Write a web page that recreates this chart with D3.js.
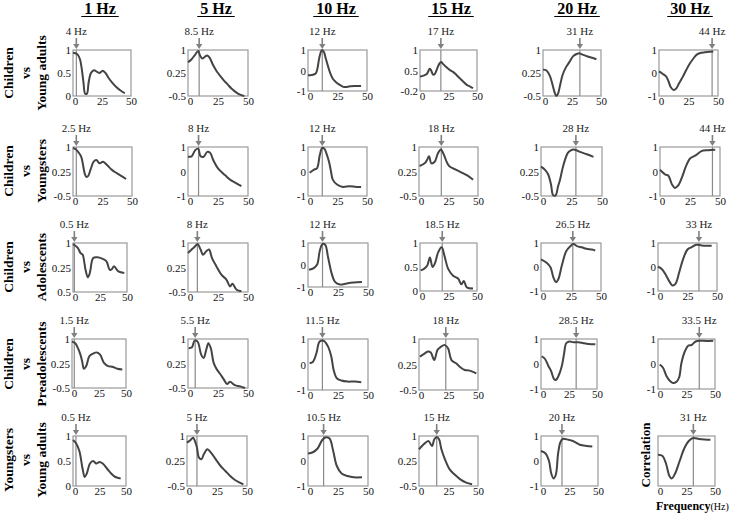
<!DOCTYPE html>
<html>
<head>
<meta charset="utf-8">
<script src="https://cdn.jsdelivr.net/npm/d3@7"></script>
<style>
  body { margin: 0; background: #fff; }
  text { font-family: "Liberation Serif", "Times New Roman", serif; }
</style>
</head>
<body>
<svg id="chart" width="738" height="517"></svg>
<script>
// column headers and row groups
var bandTitles = ["1 Hz", "5 Hz", "10 Hz", "15 Hz", "20 Hz", "30 Hz"];
var groupLabels = [
  ["Children", "vs", "Young  adults"],
  ["Children", "vs", "Youngsters"],
  ["Children", "vs", "Adolescents"],
  ["Children", "vs", "Preadolescents"],
  ["Youngsters", "vs", "Young adults"]
];

// peak labels and where the peak marker sits (Hz)
var peakLabels = [
  ["4 Hz", "8.5 Hz", "12 Hz", "17 Hz", "31 Hz", "44 Hz"],
  ["2.5 Hz", "8 Hz", "12  Hz", "18 Hz", "28 Hz", "44 Hz"],
  ["0.5 Hz", "8 Hz", "12 Hz", "18.5 Hz", "26.5 Hz", "33 Hz"],
  ["1.5 Hz", "5.5 Hz", "11.5 Hz", "18 Hz", "28.5 Hz", "33.5 Hz"],
  ["0.5 Hz", "5 Hz", "10.5 Hz", "15 Hz", "20 Hz", "31 Hz"]
];
var peakAt = [
  [2.9, 9.3, 12.1, 18.3, 31.8, 45],
  [2.8, 8.8, 12.1, 18.9, 28.6, 43.7],
  [1.25, 7.8, 12.1, 19.5, 26.5, 34.7],
  [2.1, 6, 12, 22.7, 31.4, 36.2],
  [2.8, 8.3, 13, 15, 18.4, 31]
];

// y tick labels (bottom, middle, top) and the lower end of each y range
var yTickLabels = [
  [["0", "0.5", "1"], ["-0.5", "0.25", "1"], ["-1", "0", "1"], ["-0.2", "0.5", "1"], ["-0.5", "0.25", "1"], ["-1", "0", "1"]],
  [["-0.5", "0.25", "1"], ["-1", "0", "1"], ["-1", "0", "1"], ["-0.5", "0.25", "1"], ["-0.5", "0.25", "1"], ["-1", "0", "1"]],
  [["0.5", "0.25", "1"], ["-0.5", "0.25", "1"], ["-1", "0", "1"], ["0", "0.5", "1"], ["-1", "0", "1"], ["-1", "0", "1"]],
  [["-0.5", "0.25", "1"], ["-0.5", "0.25", "1"], ["-1", "0", "1"], ["-0.5", "0.25", "1"], ["-1", "0", "1"], ["-1", "0", "1"]],
  [["0", "0.5", "1"], ["-0.5", "0.25", "1"], ["-1", "0", "1"], ["-0.5", "0.25", "1"], ["-1", "0", "1"], []]
];
var yLow = [
  [0, -0.5, -1, -0.2, -0.5, -1],
  [-0.5, -1, -1, -0.5, -0.5, -1],
  [-0.5, -0.5, -1, 0, -1, -1],
  [-0.5, -0.5, -1, -0.5, -1, -1],
  [0, -0.5, -1, -0.5, -1, -1]
];
var xTicks = [0, 25, 50];

// correlation curves, [frequency, correlation]
var curvesChildrenYoungAdults = [
  [[0,0.94],[2,0.93],[4,0.9],[6,0.8],[7.5,0.6],[9,0.3],[10.5,0.05],[12,0.05],[13.5,0.3],[15.5,0.5],[18,0.56],[21,0.52],[23,0.5],[25.5,0.55],[28,0.5],[31,0.38],[34.5,0.27],[38,0.18],[41,0.12],[44.7,0.06]],
  [[0,0.6],[3,0.7],[6,0.85],[8.5,0.97],[10,0.82],[12,0.72],[14,0.78],[16,0.82],[18,0.75],[21,0.5],[24,0.3],[27,0.15],[30,0.0],[33,-0.12],[36,-0.25],[39,-0.35],[42,-0.43],[45,-0.48],[47,-0.5]],
  [[0,-0.23],[3,-0.22],[6.5,-0.15],[8,0.1],[9.5,0.6],[11,0.92],[12,1],[13.5,0.9],[15,0.6],[17,0.2],[19,-0.15],[21,-0.4],[24,-0.58],[27,-0.7],[30,-0.8],[33,-0.8],[36,-0.77],[40,-0.76],[45,-0.76]],
  [[0,0.22],[3,0.25],[6,0.3],[8.5,0.45],[9.5,0.42],[11.5,0.28],[13,0.3],[15,0.45],[17,0.6],[18.5,0.65],[20,0.6],[23,0.5],[26,0.42],[29,0.36],[32,0.27],[35,0.17],[38,0.07],[41,-0.02],[44,-0.07],[46.5,-0.12]],
  [[0,0.36],[3,0.33],[6,0.15],[8,-0.1],[10,-0.38],[11.5,-0.5],[13,-0.42],[15,-0.1],[17,0.2],[20,0.45],[23,0.62],[26,0.8],[29,0.87],[31.5,0.89],[34,0.85],[37,0.81],[40,0.77],[43,0.74],[46,0.7]],
  [[0,0.07],[3,-0.03],[6,-0.15],[8,-0.35],[10,-0.62],[12.5,-0.74],[14.5,-0.68],[17,-0.45],[20,-0.18],[23,0.12],[26,0.4],[29,0.62],[32,0.8],[35,0.87],[39,0.9],[43,0.92],[46,0.93]]
];
var curvesChildrenYoungsters = [
  [[0,0.97],[2.3,0.93],[5,0.82],[7,0.7],[8.5,0.45],[10,0.18],[11.5,0.08],[13,0.12],[15,0.32],[17.5,0.55],[19.8,0.6],[22.5,0.5],[25.5,0.55],[28.8,0.45],[33,0.3],[37,0.2],[41.5,0.1],[45,0.02]],
  [[0,0.6],[3,0.62],[6,0.87],[8.5,0.93],[10.5,0.62],[13,0.6],[16,0.8],[18.5,0.76],[21,0.47],[25,0.13],[29,-0.07],[32,-0.2],[35,-0.33],[40,-0.47],[44.5,-0.6]],
  [[1.4,-0.05],[4.8,0.07],[7.6,0.13],[10,0.67],[12,0.96],[14,0.92],[15.5,0.75],[17.8,0.4],[19.5,0.0],[21,-0.33],[24.6,-0.53],[29.7,-0.63],[35,-0.6],[41,-0.63],[45,-0.63]],
  [[0.5,0.42],[4.8,0.5],[7,0.62],[8.5,0.72],[10.5,0.5],[13.3,0.55],[16,0.8],[18.5,0.92],[20,0.85],[21.8,0.7],[24,0.5],[26,0.4],[31.6,0.3],[37,0.2],[43,0.08],[45.8,0.0]],
  [[0,0.4],[3.3,0.3],[6,0.15],[8.2,-0.15],[10,-0.48],[12,-0.48],[14,-0.2],[15.6,0.0],[18.4,0.45],[22,0.82],[24.5,0.9],[26.6,0.92],[29,0.9],[32,0.85],[37.6,0.78],[43,0.7]],
  [[0,0.07],[4.5,-0.13],[7,-0.17],[10,-0.53],[12.4,-0.67],[15.2,-0.57],[18.6,-0.2],[21.5,0.2],[25,0.53],[30,0.67],[34.5,0.83],[40,0.87],[46,0.89]]
];
var curvesChildrenAdolescents = [
  [[0,0.97],[4.4,0.85],[7,0.69],[9,0.64],[10.5,0.4],[11.6,0.18],[13.7,-0.05],[15,0.02],[16,0.15],[18.7,0.54],[22.5,0.56],[27,0.52],[31,0.44],[34,0.18],[36,0.2],[38,0.29],[42,0.13],[47.5,0.08]],
  [[0,0.69],[3,0.8],[6,0.9],[8,0.97],[10.5,0.8],[12.5,0.64],[15,0.74],[17.5,0.8],[20,0.54],[23.6,0.29],[27.8,0.03],[32,-0.12],[35,-0.33],[37,-0.25],[40.5,-0.43],[44.5,-0.48]],
  [[0.8,-0.22],[4.8,-0.14],[7.6,0.02],[9.8,0.64],[12,0.95],[14.3,0.92],[16.8,0.33],[19.7,-0.38],[22.5,-0.77],[26.7,-0.89],[32.3,-0.84],[38,-0.8],[45,-0.77]],
  [[0.6,0.43],[3.5,0.46],[6.4,0.53],[8.7,0.7],[11,0.5],[13,0.57],[16,0.81],[19,0.91],[21.8,0.7],[24.7,0.46],[29,0.32],[33.4,0.26],[36.3,0.14],[38.4,0.21],[41,0.08],[46.5,0.05]],
  [[0,0.32],[4.7,0.18],[8,-0.02],[10.3,-0.43],[12.6,-0.63],[14.5,-0.5],[17.3,0.05],[21,0.66],[24.3,0.86],[27,0.96],[30.4,0.86],[34,0.82],[37.7,0.76],[42.5,0.73],[45.2,0.69]],
  [[0,0.01],[3.4,-0.09],[7,-0.36],[10,-0.63],[12.3,-0.77],[14.8,-0.7],[18,-0.22],[21.2,0.32],[25,0.73],[28.3,0.82],[32.5,0.93],[37,0.9],[42.6,0.89],[45.5,0.89]]
];
var curvesChildrenPreadolescents = [
  [[0,0.92],[3,0.87],[5.5,0.72],[7.8,0.52],[9.4,0.32],[11,0.09],[13.4,0.19],[16,0.47],[19.5,0.55],[23,0.59],[26,0.52],[29.6,0.27],[33.5,0.17],[37.2,0.15],[42,0.09],[46.6,0.07]],
  [[0.5,0.72],[3.3,0.75],[5.5,0.95],[8,0.92],[11,0.52],[13,0.42],[15.2,0.67],[17,0.87],[19,0.72],[21.4,0.27],[24,0.07],[27,-0.08],[29.7,-0.23],[32.5,-0.38],[35,-0.31],[39,-0.41],[43.5,-0.45],[47.5,-0.5]],
  [[1.4,0.05],[4.2,0.11],[7,0.44],[9.7,0.9],[13,0.93],[16.7,0.7],[19.4,0.31],[21.4,-0.22],[24,-0.54],[27.8,-0.63],[33,-0.67],[39,-0.67],[44.4,-0.7]],
  [[0.8,0.48],[5,0.58],[7.8,0.63],[10,0.6],[12.9,0.38],[15.7,0.68],[18.5,0.77],[22,0.82],[24.7,0.72],[27.5,0.38],[31.7,0.28],[35,0.17],[38.7,0.09],[43,0.07],[48.6,-0.01]],
  [[0.6,0.31],[3.6,0.2],[6.6,-0.08],[9,-0.28],[11.7,-0.61],[13.5,-0.63],[15.6,-0.48],[18.6,-0.08],[20.7,0.44],[22.5,0.83],[25.4,0.9],[29,0.87],[33.5,0.87],[38,0.83],[42.5,0.8],[48.5,0.79]],
  [[1.5,-0.02],[4.4,-0.15],[7.4,-0.48],[10.3,-0.67],[13.2,-0.76],[16.2,-0.71],[18.5,-0.54],[20.6,0.05],[23.5,0.5],[26.5,0.73],[29.4,0.76],[33,0.9],[36.8,0.93],[42.6,0.92],[48.5,0.93]]
];
var curvesYoungstersYoungAdults = [
  [[0,0.92],[3,0.85],[6,0.7],[9,0.35],[11,0.18],[13,0.25],[16,0.45],[19,0.5],[22,0.45],[25,0.48],[28,0.45],[32,0.35],[36,0.25],[40,0.18],[45,0.15]],
  [[0,0.8],[3,0.88],[5,0.95],[8,0.7],[10,0.35],[12,0.3],[14,0.45],[17,0.6],[20,0.5],[24,0.3],[28,0.1],[32,-0.05],[36,-0.2],[40,-0.32],[44,-0.4],[47,-0.45]],
  [[0,0.3],[4,0.35],[8,0.5],[12,0.85],[15,0.95],[18,0.9],[21,0.4],[24,-0.2],[28,-0.5],[33,-0.6],[38,-0.65],[45,-0.65]],
  [[0,0.6],[4,0.75],[8,0.85],[11,0.7],[13,0.9],[15,0.97],[17,0.9],[19,0.6],[22,0.3],[26,0.0],[30,-0.15],[35,-0.3],[40,-0.4],[45,-0.45]],
  [[0,0.4],[4,0.3],[7,0.0],[9,-0.5],[11,-0.7],[13,-0.55],[15,0.3],[17,0.75],[19,0.88],[24,0.85],[28,0.8],[34,0.65],[40,0.6],[45,0.58]],
  [[0,0.25],[4,0.2],[7,-0.1],[10,-0.6],[12,-0.7],[15,-0.5],[19,0.0],[23,0.5],[27,0.8],[31,0.92],[36,0.88],[41,0.86],[46,0.85]]
];
var curves = [curvesChildrenYoungAdults, curvesChildrenYoungsters, curvesChildrenAdolescents,
  curvesChildrenPreadolescents, curvesYoungstersYoungAdults];

// panel frames in pixels
var boxX = [
  [[73,131],[188,248],[308,367],[420,477],[543,601],[659,718]],
  [[73,132],[188,248],[308,367],[419,478],[541,602],[660,720]],
  [[73,127],[188,248],[308,368],[420,477],[541,601],[658,717]],
  [[72,126],[188,248],[308,368],[419,478],[541,597],[658,715]],
  [[73,126],[187,247],[308,368],[419,478],[541,598],[658,715]]
];
var boxTop = [50, 147, 243, 339, 436];
var boxBottom = [
  [96,96,91,91,96,96],
  [196,196,196,196,196,196],
  [292,292,287,291,291,291],
  [388,388,390,390,389,389],
  [486,486,486,486,486,486]
];
var titleX = [100, 216, 336, 451, 577, 690];
var rowMid = [73, 171, 267, 364, 460];

var svg = d3.select("#chart");

// column titles
titleX.forEach(function (cx, i) {
  var t = svg.append("text")
    .attr("x", cx).attr("y", 14)
    .attr("text-anchor", "middle")
    .style("font-size", "16px").style("font-weight", "bold")
    .text(bandTitles[i]);
  var w = t.node().getComputedTextLength();
  svg.append("line")
    .attr("x1", cx - w / 2 - 3).attr("x2", cx + w / 2 + 3)
    .attr("y1", 16.5).attr("y2", 16.5)
    .attr("stroke", "#000").attr("stroke-width", 1.2);
});

// row labels
var rowLineX = [13, 30, 46];
groupLabels.forEach(function (lines, r) {
  lines.forEach(function (s, k) {
    svg.append("text")
      .attr("transform", "translate(" + rowLineX[k] + "," + rowMid[r] + ")rotate(-90)")
      .attr("text-anchor", "middle")
      .style("font-size", "13.5px").style("font-weight", "bold")
      .text(s);
  });
});

function drawPanel(r, c) {
  var y0 = boxTop[r], y1 = boxBottom[r][c];
  var x = d3.scaleLinear().domain([0, 50]).range(boxX[r][c]);
  var lo = yLow[r][c];
  var y = d3.scaleLinear().domain([lo, 1]).range([y1, y0]);
  var g = svg.append("g");

  // frame
  g.append("rect")
    .attr("x", x(0)).attr("y", y(1))
    .attr("width", x(50) - x(0)).attr("height", y(lo) - y(1))
    .attr("fill", "none").attr("stroke", "#9a9a9a").attr("stroke-width", 1.2);

  // peak marker
  var px = x(peakAt[r][c]);
  g.append("line")
    .attr("x1", px).attr("x2", px).attr("y1", y(1)).attr("y2", y(lo))
    .attr("stroke", "#8a8a8a").attr("stroke-width", 1.2);
  g.append("path")
    .attr("d", "M" + (px - 0.8) + "," + (y0 - 12) + "V" + (y0 - 6) + "H" + (px - 3.2) +
      "L" + px + "," + (y0 - 1) + "L" + (px + 3.2) + "," + (y0 - 6) + "H" + (px + 0.8) + "V" + (y0 - 12) + "Z")
    .attr("fill", "#808080");
  g.append("text")
    .attr("x", px).attr("y", y0 - 15)
    .attr("text-anchor", "middle")
    .style("font-size", "11px").attr("fill", "#222")
    .text(peakLabels[r][c]);

  // axes
  var labs = yTickLabels[r][c];
  var yAxis = g.append("g")
    .attr("transform", "translate(" + x(0) + ",0)")
    .call(d3.axisLeft(y).tickValues(labs.length ? [lo, (lo + 1) / 2, 1] : [])
      .tickFormat(function (d, i) { return labs[i]; })
      .tickSize(0).tickPadding(2));
  var xAxis = g.append("g")
    .attr("transform", "translate(0," + y(lo) + ")")
    .call(d3.axisBottom(x).tickValues(xTicks).tickSize(0).tickPadding(1));
  [yAxis, xAxis].forEach(function (a) {
    a.select(".domain").remove();
    a.selectAll("text")
      .style("font-family", "'Liberation Serif', serif")
      .style("font-size", "11px").attr("fill", "#111");
  });
  xAxis.selectAll("text").attr("dx", function (d) { return d === 0 ? "2" : "0"; });

  // curve
  g.append("path")
    .datum(curves[r][c])
    .attr("d", d3.line()
      .x(function (d) { return x(d[0]); })
      .y(function (d) { return y(d[1]); })
      .curve(d3.curveCatmullRom.alpha(0.5)))
    .attr("fill", "none").attr("stroke", "#444").attr("stroke-width", 2)
    .attr("stroke-linejoin", "round");
}

for (var r = 0; r < 5; r++) {
  for (var c = 0; c < 6; c++) drawPanel(r, c);
}

// axis captions on the last panel
svg.append("text")
  .attr("transform", "translate(650,455)rotate(-90)")
  .attr("text-anchor", "middle")
  .style("font-size", "13px").style("font-weight", "bold")
  .text("Correlation");
var cap = svg.append("text")
  .attr("x", 656).attr("y", 510)
  .style("font-size", "12px");
cap.append("tspan").style("font-weight", "bold").text("Frequency");
cap.append("tspan").style("font-size", "10px").text("(Hz)");
</script>
</body>
</html>
